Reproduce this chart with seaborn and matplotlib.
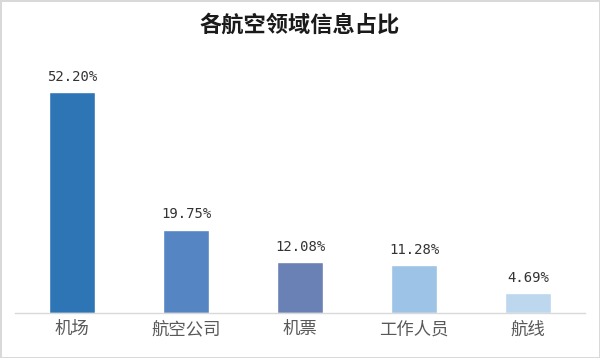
import matplotlib
matplotlib.use("Agg")
import matplotlib.pyplot as plt
import seaborn as sns
import pandas as pd

categories = ["机场", "航空公司", "机票", "工作人员", "航线"]
values = [52.20, 19.75, 12.08, 11.28, 4.69]
labels = ["52.20%", "19.75%", "12.08%", "11.28%", "4.69%"]
colors = ["#2E75B6", "#5585C2", "#6A81B5", "#9DC3E6", "#BDD7EE"]

sns.set_theme(style="white")
plt.rcParams['font.family'] = ['Noto Sans CJK SC', 'DejaVu Sans']

df = pd.DataFrame({"cat": categories, "val": values})

fig = plt.figure(figsize=(6, 3.58), dpi=100)
fig.patch.set_edgecolor("#D9D9D9")
fig.patch.set_linewidth(2)
ax = fig.add_axes([0.025, 0.125, 0.95, 0.71])

sns.barplot(data=df, x="cat", y="val", hue="cat", palette=colors,
            width=0.4, legend=False, ax=ax, saturation=1)

for i, (v, lab) in enumerate(zip(values, labels)):
    ax.text(i, v + 2.0, lab, ha="center", va="bottom", fontsize=10,
            color="#333333", family=["DejaVu Sans Mono"])

ax.set_ylim(0, 60)
ax.set_xlim(-0.5, 4.5)
ax.set_xlabel("")
ax.set_ylabel("")
ax.set_yticks([])
for s in ["top", "right", "left"]:
    ax.spines[s].set_visible(False)
ax.spines["bottom"].set_color("#D9D9D9")
ax.spines["bottom"].set_linewidth(1)
ax.tick_params(axis="x", length=0, labelsize=12.5, labelcolor="#595959", pad=5)

fig.text(0.5, 0.93, "各航空领域信息占比", ha="center", va="center",
         fontsize=16, fontweight="bold", color="#1a1a1a")

fig.savefig("out.png", dpi=100, edgecolor=fig.get_edgecolor())
